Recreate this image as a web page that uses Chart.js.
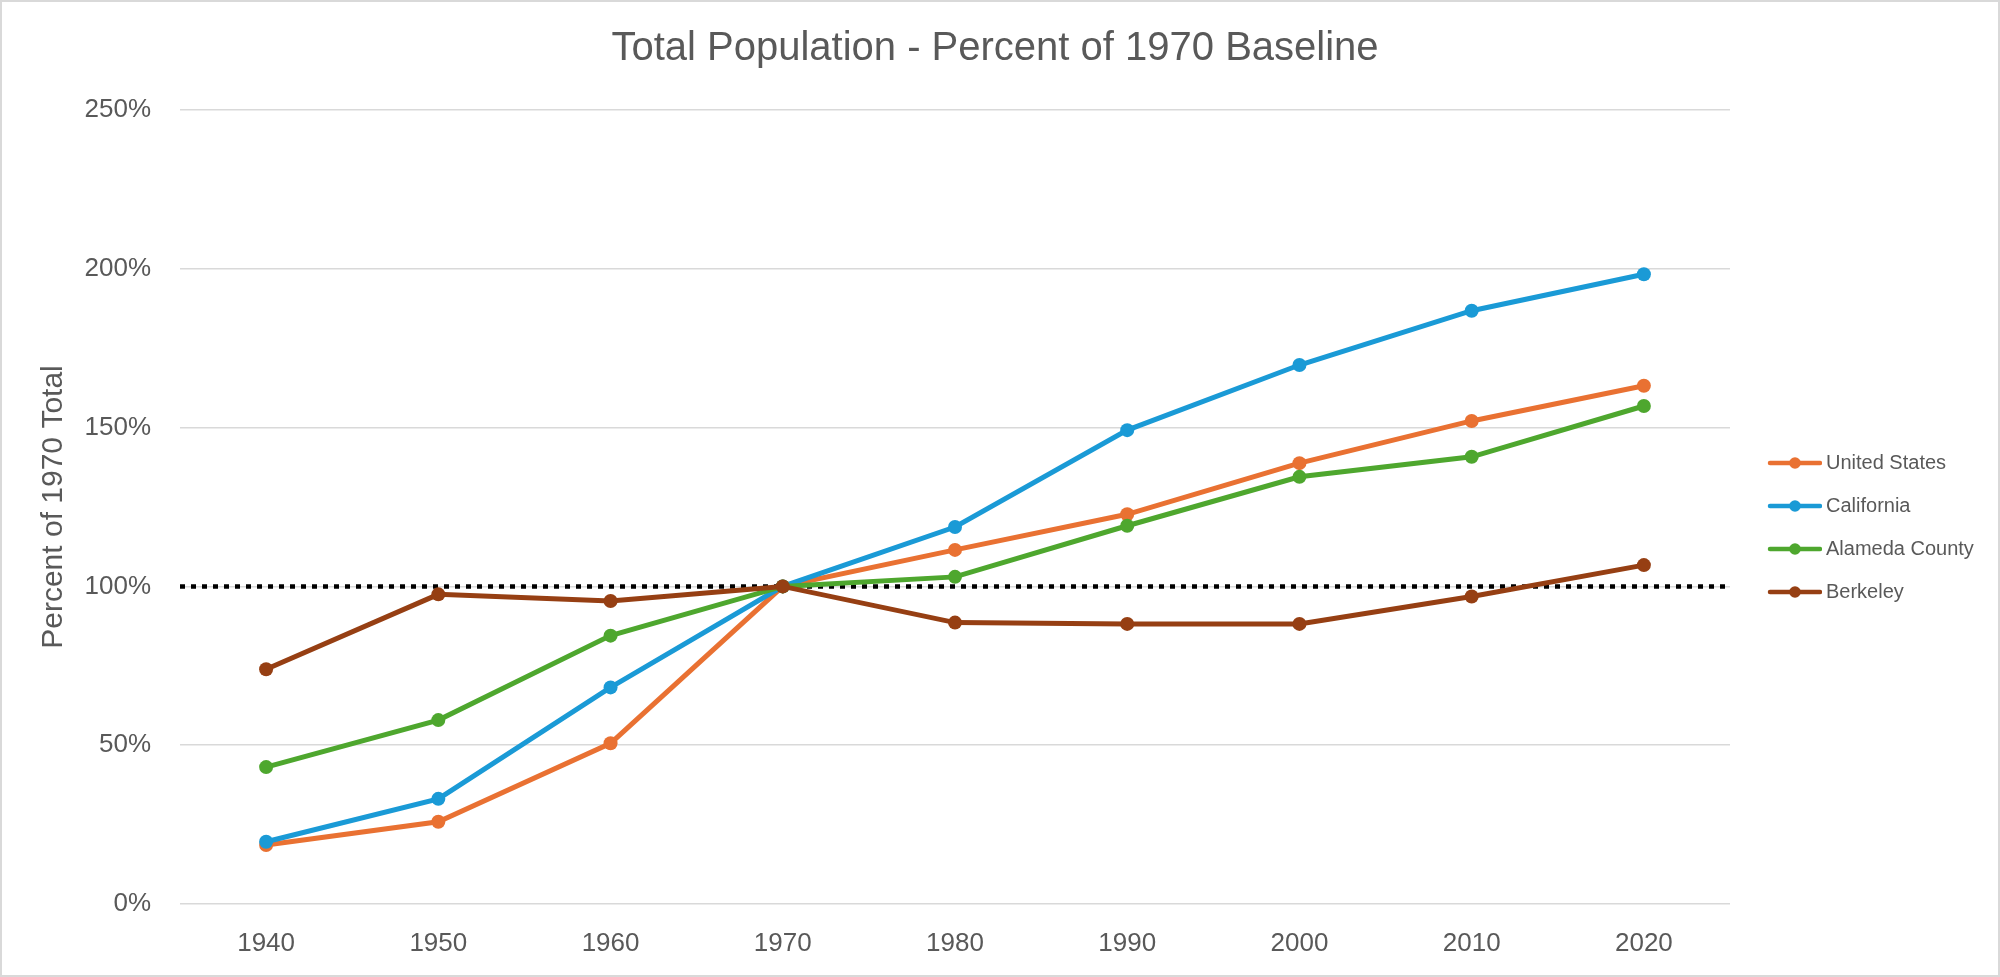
<!DOCTYPE html>
<html>
<head>
<meta charset="utf-8">
<script src="https://cdn.jsdelivr.net/npm/chart.js@4.4.1/dist/chart.umd.min.js"></script>
<style>
  html, body { margin: 0; padding: 0; background: #ffffff; }
  #wrap { width: 2000px; height: 977px; }
</style>
</head>
<body>
<div id="wrap"><canvas id="c" width="2000" height="977"></canvas></div>
<script>
// ---- Data ----
const years = ['1940', '1950', '1960', '1970', '1980', '1990', '2000', '2010', '2020'];
const seriesNames = ['United States', 'California', 'Alameda County', 'Berkeley'];
const unitedStates = [18.6, 25.9, 50.6, 100, 111.5, 122.7, 138.8, 152.1, 163.2];
const california   = [19.6, 33.1, 68.2, 100, 118.7, 149.2, 169.7, 186.8, 198.3];
const alameda      = [43.1, 57.9, 84.5, 100, 103.0, 119.1, 134.5, 140.8, 156.8];
const berkeley     = [73.9, 97.5, 95.4, 100, 88.6, 88.2, 88.2, 96.8, 106.7];
const yTicks = [0, 50, 100, 150, 200, 250];
const baseline = 100;

const colors = ['#E97132', '#1A9AD6', '#4EA72E', '#963F13'];
const FONT = '"Liberation Sans", Arial, sans-serif';
const TEXT = '#595959';

function legendImage(color) {
  const cv = document.createElement('canvas');
  cv.width = 75; cv.height = 16;
  const g = cv.getContext('2d');
  g.strokeStyle = color;
  g.lineWidth = 4.5;
  g.lineCap = 'round';
  g.beginPath(); g.moveTo(23, 8); g.lineTo(73, 8); g.stroke();
  g.fillStyle = color;
  g.beginPath(); g.arc(48, 8, 5.8, 0, Math.PI * 2); g.fill();
  return cv;
}
const legendImgs = colors.map(legendImage);

const seriesValues = [unitedStates, california, alameda, berkeley];
const datasets = seriesValues.map((vals, i) => ({
  label: seriesNames[i],
  data: vals,
  borderColor: colors[i],
  backgroundColor: colors[i],
  pointBackgroundColor: colors[i],
  pointBorderColor: colors[i],
  pointBorderWidth: 0,
  pointRadius: 7,
  pointHoverRadius: 7,
  borderWidth: 5,
  tension: 0,
  fill: false,
  order: seriesValues.length - i
}));

const framePlugin = {
  id: 'frame',
  beforeDraw(chart) {
    const ctx = chart.ctx;
    ctx.save();
    ctx.fillStyle = '#ffffff';
    ctx.fillRect(0, 0, chart.width, chart.height);
    ctx.strokeStyle = '#D9D9D9';
    ctx.lineWidth = 2;
    ctx.strokeRect(1, 1, chart.width - 2, chart.height - 2);
    ctx.restore();
  }
};

const baselinePlugin = {
  id: 'baselineLine',
  beforeDatasetsDraw(chart) {
    const {ctx, chartArea, scales} = chart;
    const y = scales.y.getPixelForValue(baseline);
    ctx.save();
    ctx.strokeStyle = '#000000';
    ctx.lineWidth = 4.5;
    ctx.setLineDash([5, 6]);
    ctx.beginPath();
    ctx.moveTo(chartArea.left, y);
    ctx.lineTo(chartArea.right, y);
    ctx.stroke();
    ctx.restore();
  }
};

new Chart(document.getElementById('c'), {
  type: 'line',
  data: { labels: years, datasets: datasets },
  plugins: [framePlugin, baselinePlugin],
  options: {
    responsive: false,
    animation: false,
    devicePixelRatio: 1,
    layout: { padding: { left: 10, right: 20, top: 0, bottom: 0 } },
    plugins: {
      tooltip: { enabled: false },
      title: {
        display: true,
        text: 'Total Population - Percent of 1970 Baseline',
        color: TEXT,
        font: { family: FONT, size: 40, weight: 'normal' },
        padding: { top: 25, bottom: 37 }
      },
      legend: {
        display: true,
        position: 'right',
        fullSize: false,
        maxWidth: 250,
        title: { display: true, text: '', font: { size: 10, lineHeight: 1 }, padding: { top: 31, bottom: 0 } },
        labels: {
          usePointStyle: true,
          pointStyleWidth: 63,
          padding: 23,
          color: TEXT,
          font: { family: FONT, size: 20 },
          generateLabels(chart) {
            return chart.data.datasets.map((ds, i) => ({
              text: ds.label,
              fillStyle: ds.borderColor,
              strokeStyle: ds.borderColor,
              lineWidth: 0,
              pointStyle: legendImgs[i],
              fontColor: TEXT,
              hidden: false,
              datasetIndex: i
            }));
          }
        }
      }
    },
    scales: {
      x: {
        type: 'category',
        offset: true,
        grid: { display: false, drawTicks: false },
        border: { display: false },
        ticks: { color: TEXT, font: { family: FONT, size: 26 }, padding: 24.5, maxRotation: 0 },
        afterFit(scale) { scale.height = 73; }
      },
      y: {
        min: 0,
        max: 250,
        afterBuildTicks(scale) { scale.ticks = yTicks.map(v => ({ value: v })); },
        grid: { color: '#D9D9D9', lineWidth: 1.5, drawTicks: false },
        border: { display: false },
        ticks: {
          color: TEXT,
          font: { family: FONT, size: 26 },
          padding: 29,
          callback: (v) => v + '%'
        },
        title: {
          display: true,
          text: 'Percent of 1970 Total',
          color: TEXT,
          font: { family: FONT, size: 30, weight: 'normal' },
          padding: { top: 26, bottom: 0 }
        },
        afterFit(scale) { scale.width = 170; }
      }
    }
  }
});
</script>
</body>
</html>
